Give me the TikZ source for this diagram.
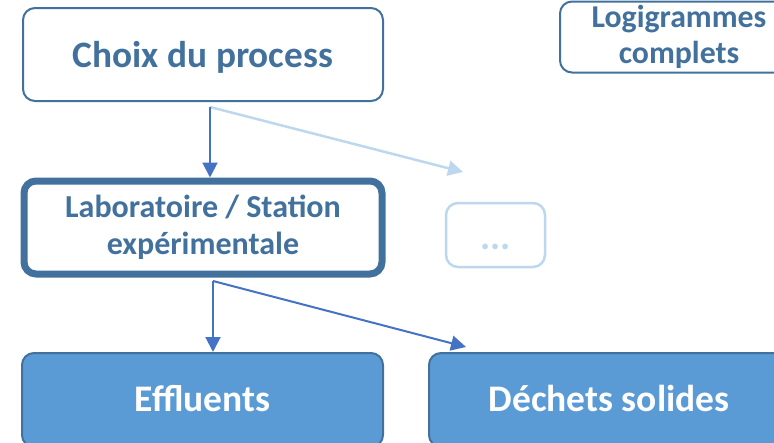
\documentclass[tikz,border=0pt]{standalone}
\usepackage{fontspec}
\setmainfont{Carlito}
\usetikzlibrary{arrows.meta}
\definecolor{boxline}{RGB}{65,113,156}
\definecolor{arrowblue}{RGB}{68,114,196}
\definecolor{paleblue}{RGB}{189,215,238}
\definecolor{boxfill}{RGB}{91,155,213}

\begin{document}
\begin{tikzpicture}[x=1pt,y=-1pt,
  stage/.style={draw=boxline, line width=2pt, rounded corners=12pt, fill=white,
    text=boxline, align=center, inner sep=0pt},
  output/.style={stage, fill=boxfill, text=white},
  link/.style={draw=arrowblue, line width=2pt, -{Triangle[length=15pt,width=15pt]}},
  palelink/.style={draw=paleblue, line width=2.5pt, -{Triangle[length=15pt,width=15pt]}},
]
\useasboundingbox (0,0) rectangle (774,442);
\clip (0,0) rectangle (774,442);

% main chain
\node[stage, minimum width=360pt, minimum height=93pt,
      font=\fontsize{37.3}{44}\bfseries, text height=26pt, text depth=0pt]
      (choix) at (203,54.5) {Choix du process};
\node[stage, line width=7pt, minimum width=358pt, minimum height=93pt,
      font=\fontsize{32}{37}\bfseries] (labo) at (203,227.5)
      {Laboratoire / Station\\expérimentale};
\node[stage, minimum width=238pt, minimum height=71pt,
      font=\fontsize{31.8}{36}\bfseries] (logi) at (679,37) {Logigrammes\\complets};

% alternative branch, kept pale
\node[stage, draw=paleblue, line width=2.5pt, minimum width=99pt, minimum height=64pt,
      text=paleblue, font=\fontsize{38}{44}\bfseries,
      text height=30pt, text depth=2pt] (autre) at (495.5,235) {...};

% outputs
\node[output, minimum width=361pt, minimum height=94pt,
      font=\fontsize{37.5}{44}\bfseries, text height=22pt, text depth=0pt]
      (eff) at (202.5,400) {Effluents};
\node[output, minimum width=360pt, minimum height=94pt,
      font=\fontsize{37.5}{44}\bfseries, text height=22pt, text depth=0pt]
      (dech) at (609,400) {Déchets solides};

% connectors
\coordinate (c1) at (210,107);
\coordinate (c1end) at (463,172);
\coordinate (c2) at (213,281);
\coordinate (c2end) at (466,347);

\draw[palelink] (c1) -- (c1end);
\draw[link] (c1) -- (c1 |- labo.north);
\draw[link] (c2) -- (c2 |- eff.north);
\draw[link] (c2) -- (c2end);
\end{tikzpicture}
\end{document}
